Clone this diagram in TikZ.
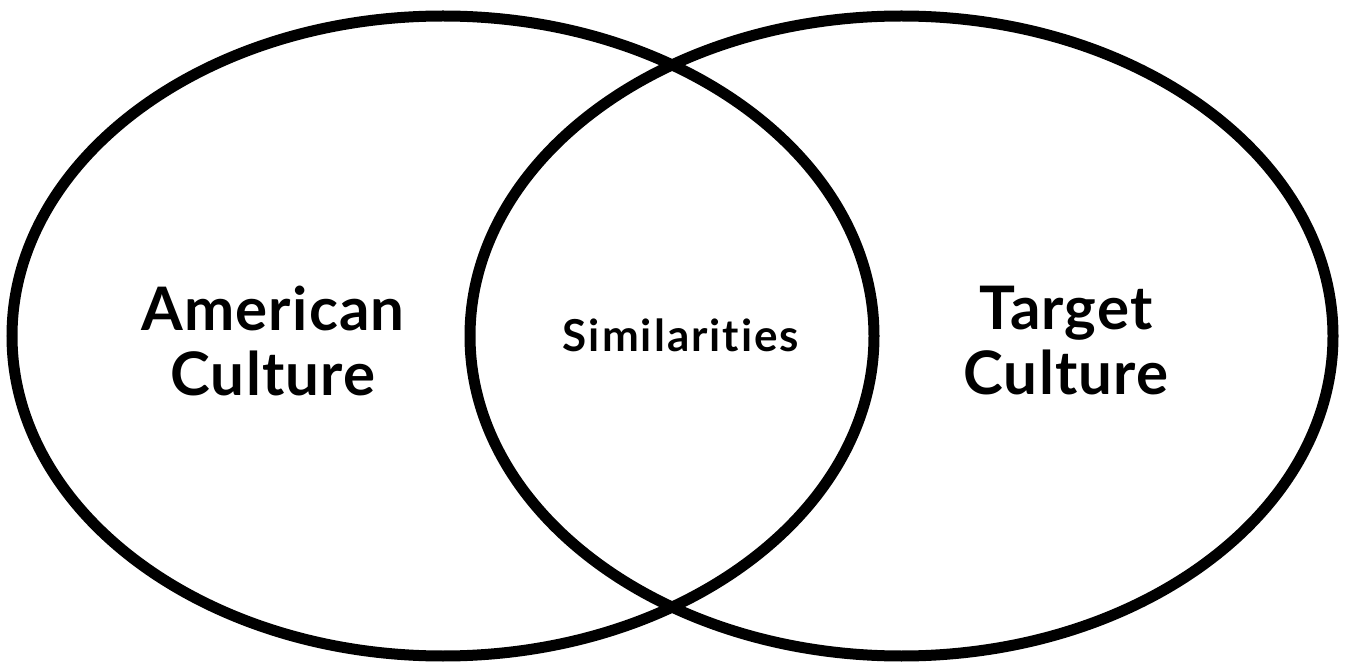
\documentclass[tikz,border=0pt]{standalone}
\usepackage{fontspec}
\setmainfont{Lato}[Ligatures=NoCommon]
\usepackage{tikz}

\begin{document}
\begin{tikzpicture}[x=0.5pt,y=-0.5pt,
    cercle/.style={line width=5.5pt, black},
    grand/.style={font=\fontsize{30}{32.5}\selectfont\bfseries\addfontfeature{LetterSpace=2}, align=center},
    petit/.style={font=\fontsize{22}{24}\selectfont\bfseries\addfontfeature{LetterSpace=4.5}}]

        \useasboundingbox (0,0) rectangle (1345,663);

        % Centres des deux ellipses
        \coordinate (G) at (443,336);
        \coordinate (D) at (901.5,336);

        % Dessiner les deux ellipses
        \draw[cercle] (G) ellipse [x radius=431, y radius=320];
        \draw[cercle] (D) ellipse [x radius=431.5, y radius=320];

        % Les textes
        \node[grand] (american) at (273,341) {American\\Culture};
        \node[grand] (target) at (1066,341) {Target\\Culture};
        \node[petit] (similar) at (681,335) {Similarities};
    \end{tikzpicture}
\end{document}
